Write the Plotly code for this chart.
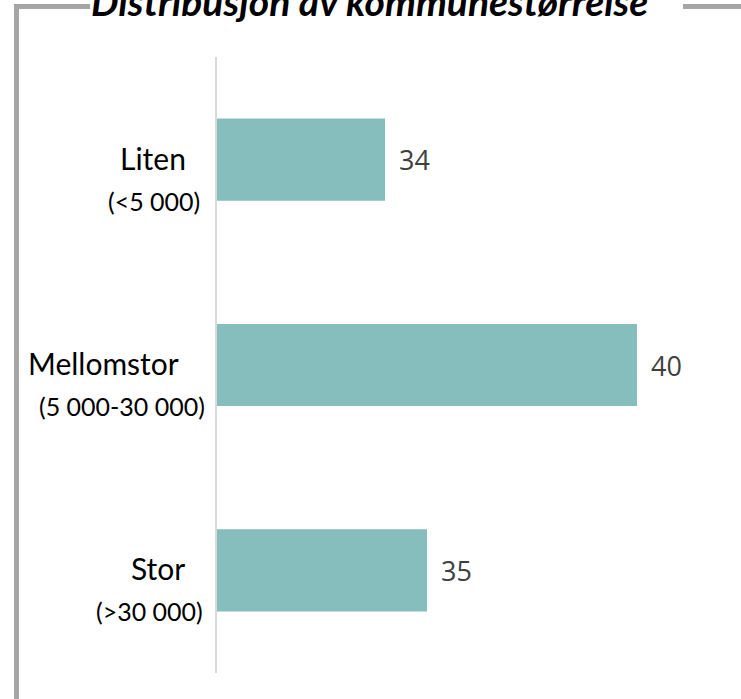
import plotly.graph_objects as go

W, H = 741, 699

categories = ["Liten", "Mellomstor", "Stor"]
sublabels = ["(<5 000)", "(5 000-30 000)", "(>30 000)"]
values = [34, 40, 35]
title_text = "Distribusjon av kommunestørrelse"

bar_color = "#85BEBD"
frame_color = "#A6A6A6"

def px_x(x):
    return x / W

def px_y(y):
    return 1 - y / H

fig = go.Figure()
fig.add_trace(go.Bar(
    x=values, y=categories, orientation="h",
    marker=dict(color=bar_color, line=dict(width=0)),
    hoverinfo="skip", showlegend=False,
))

# value labels
for c, v in zip(categories, values):
    fig.add_annotation(x=v, y=c, xref="x", yref="y", text=str(v),
                       showarrow=False, xanchor="left", yanchor="middle",
                       xshift=12, yshift=0,
                       font=dict(family="Open Sans", size=27, color="#404040"))

# category labels (two lines)
line1_right = [188, 181, 187]
line2_right = [202, 207, 205]
for i, (c, s) in enumerate(zip(categories, sublabels)):
    fig.add_annotation(x=px_x(line1_right[i]), y=c, xref="paper", yref="y",
                       text=c, showarrow=False, xanchor="right", yanchor="middle",
                       yshift=2,
                       font=dict(family="Lato", size=30, color="#000000"))
    fig.add_annotation(x=px_x(line2_right[i]), y=c, xref="paper", yref="y",
                       text=s, showarrow=False, xanchor="right", yanchor="middle",
                       yshift=-41,
                       font=dict(family="Lato", size=25, color="#000000"))

# title
fig.add_annotation(x=px_x(369), y=px_y(26), xref="paper", yref="paper",
                   text="<b><i>" + title_text + "</i></b>", showarrow=False,
                   xanchor="center", yanchor="bottom",
                   font=dict(family="Lato", size=39, color="#000000"))

# frame
shapes = [
    dict(type="line", xref="paper", yref="paper",
         x0=px_x(16.5), x1=px_x(16.5), y0=px_y(4), y1=px_y(705),
         line=dict(color=frame_color, width=5)),
    dict(type="line", xref="paper", yref="paper",
         x0=px_x(14), x1=px_x(90), y0=px_y(6.5), y1=px_y(6.5),
         line=dict(color=frame_color, width=5)),
    dict(type="line", xref="paper", yref="paper",
         x0=px_x(683), x1=px_x(745), y0=px_y(6.5), y1=px_y(6.5),
         line=dict(color=frame_color, width=5)),
]

fig.update_layout(
    width=W, height=H,
    margin=dict(l=0, r=0, t=0, b=0),
    paper_bgcolor="white", plot_bgcolor="white",
    bargap=0.6,
    shapes=shapes,
    xaxis=dict(domain=[px_x(217), px_x(721)], range=[30, 42],
               visible=False, fixedrange=True),
    yaxis=dict(domain=[px_y(673), px_y(57)], categoryorder="array",
               categoryarray=categories, autorange="reversed",
               showticklabels=False, ticks="", showgrid=False, zeroline=False,
               showline=True, linecolor="#D9D9D9", linewidth=1.5,
               fixedrange=True),
)

fig.write_html("out.html",
               config={"displayModeBar": False},
               post_script="document.body.style.margin='0';document.body.style.overflow='hidden';")
